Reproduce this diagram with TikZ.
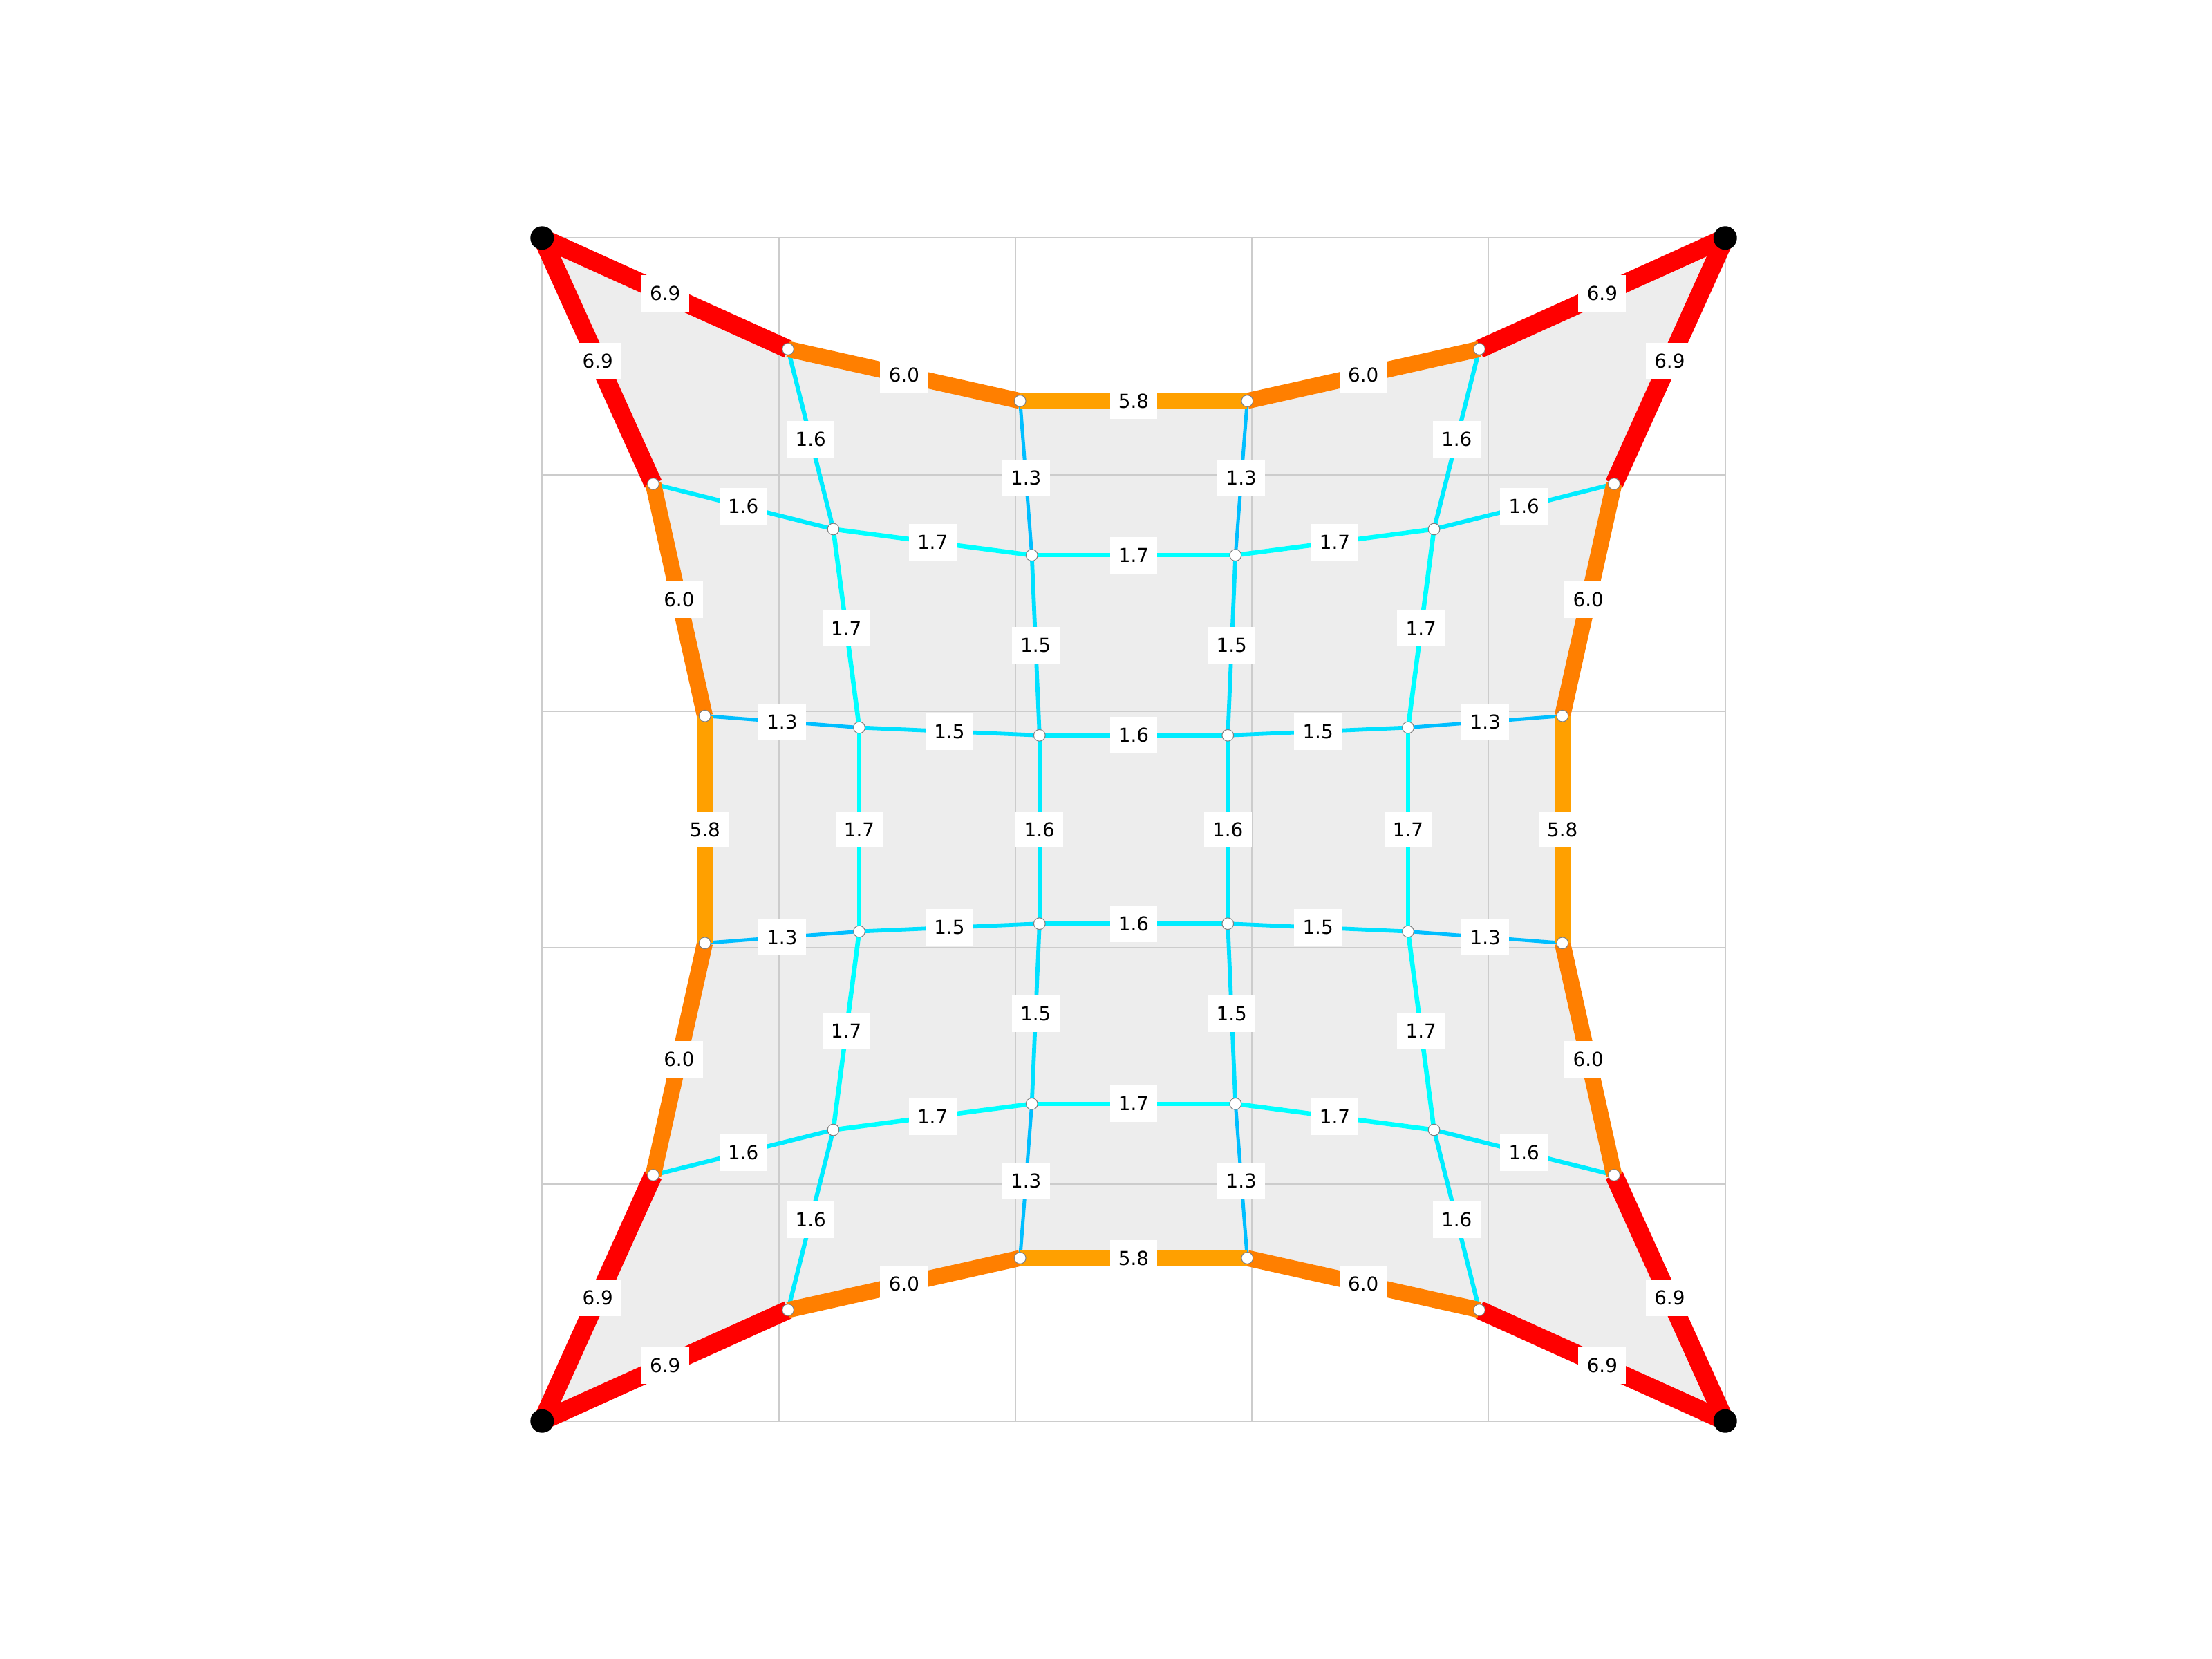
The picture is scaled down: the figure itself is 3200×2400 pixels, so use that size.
\documentclass[tikz,border=0pt]{standalone}
\usepackage{fontspec}
\setmainfont{DejaVu Sans}
\definecolor{c69}{RGB}{255,0,0}
\definecolor{c60}{RGB}{255,127,0}
\definecolor{c58}{RGB}{255,160,0}
\definecolor{c17}{RGB}{0,255,255}
\definecolor{c16}{RGB}{0,236,255}
\definecolor{c15}{RGB}{0,224,255}
\definecolor{c13}{RGB}{0,190,255}
\definecolor{gridc}{RGB}{204,204,204}
\definecolor{fillc}{RGB}{237,237,237}
\tikzset{
  f69/.style={line width=7.59pt, draw=c69},
  f60/.style={line width=6.6pt, draw=c60},
  f58/.style={line width=6.38pt, draw=c58},
  f17/.style={line width=1.87pt, draw=c17},
  f16/.style={line width=1.76pt, draw=c16},
  f15/.style={line width=1.65pt, draw=c15},
  f13/.style={line width=1.43pt, draw=c13},
  lbl/.style={fill=white, text=black, inner xsep=3.5pt, inner ysep=0pt, minimum height=15pt,
    font=\fontsize{7.9}{9.5}\selectfont},
  joint/.style={circle, fill=white, draw=gray, line width=0.3pt, minimum size=0.167cm, inner sep=0pt},
  anchorpt/.style={circle, fill=black, minimum size=0.34cm, inner sep=0pt},
  gridline/.style={draw=gridc, line width=0.55pt}
}
\newcommand{\memb}[4]{\draw[f#3] (#1) -- (#2) node[lbl, midway] {#4};}
\begin{document}
\begin{tikzpicture}[x=0.01cm, y=-0.01cm]
\useasboundingbox (0,0) rectangle (3200,2400);
% coordinates: row r, column c
\coordinate (p00) at (784.3,344.3);
\coordinate (p01) at (1140,505);
\coordinate (p02) at (1475.7,580);
\coordinate (p03) at (1804.3,580);
\coordinate (p04) at (2140,505);
\coordinate (p05) at (2495.7,344.3);
\coordinate (p10) at (945,700);
\coordinate (p11) at (1205.5,765.5);
\coordinate (p12) at (1492.7,803.2);
\coordinate (p13) at (1787.3,803.2);
\coordinate (p14) at (2074.5,765.5);
\coordinate (p15) at (2335,700);
\coordinate (p20) at (1019.7,1035.7);
\coordinate (p21) at (1243,1052.5);
\coordinate (p22) at (1503.8,1063.8);
\coordinate (p23) at (1776.2,1063.8);
\coordinate (p24) at (2037,1052.5);
\coordinate (p25) at (2260.3,1035.7);
\coordinate (p30) at (1019.7,1364.3);
\coordinate (p31) at (1243,1347.5);
\coordinate (p32) at (1503.8,1336.2);
\coordinate (p33) at (1776.2,1336.2);
\coordinate (p34) at (2037,1347.5);
\coordinate (p35) at (2260.3,1364.3);
\coordinate (p40) at (945,1700);
\coordinate (p41) at (1205.5,1634.5);
\coordinate (p42) at (1492.7,1596.8);
\coordinate (p43) at (1787.3,1596.8);
\coordinate (p44) at (2074.5,1634.5);
\coordinate (p45) at (2335,1700);
\coordinate (p50) at (784.3,2055.7);
\coordinate (p51) at (1140,1895);
\coordinate (p52) at (1475.7,1820);
\coordinate (p53) at (1804.3,1820);
\coordinate (p54) at (2140,1895);
\coordinate (p55) at (2495.7,2055.7);
% membrane fill
\fill[fillc] (p00) -- (p01) -- (p02) -- (p03) -- (p04) -- (p05) -- (p15) -- (p25) -- (p35) -- (p45)
  -- (p55) -- (p54) -- (p53) -- (p52) -- (p51) -- (p50) -- (p40) -- (p30) -- (p20) -- (p10) -- cycle;
% grid
\foreach \k in {0,...,5} {
  \draw[gridline] ({784.3+342.28*\k},344.3) -- ({784.3+342.28*\k},2055.7);
  \draw[gridline] (784.3,{344.3+342.28*\k}) -- (2495.7,{344.3+342.28*\k});
}
% inner vertical members
\memb{p01}{p11}{16}{1.6}
\memb{p11}{p21}{17}{1.7}
\memb{p21}{p31}{17}{1.7}
\memb{p31}{p41}{17}{1.7}
\memb{p41}{p51}{16}{1.6}
\memb{p02}{p12}{13}{1.3}
\memb{p12}{p22}{15}{1.5}
\memb{p22}{p32}{16}{1.6}
\memb{p32}{p42}{15}{1.5}
\memb{p42}{p52}{13}{1.3}
\memb{p03}{p13}{13}{1.3}
\memb{p13}{p23}{15}{1.5}
\memb{p23}{p33}{16}{1.6}
\memb{p33}{p43}{15}{1.5}
\memb{p43}{p53}{13}{1.3}
\memb{p04}{p14}{16}{1.6}
\memb{p14}{p24}{17}{1.7}
\memb{p24}{p34}{17}{1.7}
\memb{p34}{p44}{17}{1.7}
\memb{p44}{p54}{16}{1.6}
% inner horizontal members
\memb{p10}{p11}{16}{1.6}
\memb{p11}{p12}{17}{1.7}
\memb{p12}{p13}{17}{1.7}
\memb{p13}{p14}{17}{1.7}
\memb{p14}{p15}{16}{1.6}
\memb{p20}{p21}{13}{1.3}
\memb{p21}{p22}{15}{1.5}
\memb{p22}{p23}{16}{1.6}
\memb{p23}{p24}{15}{1.5}
\memb{p24}{p25}{13}{1.3}
\memb{p30}{p31}{13}{1.3}
\memb{p31}{p32}{15}{1.5}
\memb{p32}{p33}{16}{1.6}
\memb{p33}{p34}{15}{1.5}
\memb{p34}{p35}{13}{1.3}
\memb{p40}{p41}{16}{1.6}
\memb{p41}{p42}{17}{1.7}
\memb{p42}{p43}{17}{1.7}
\memb{p43}{p44}{17}{1.7}
\memb{p44}{p45}{16}{1.6}
% boundary cables: red
\memb{p00}{p01}{69}{6.9}
\memb{p04}{p05}{69}{6.9}
\memb{p00}{p10}{69}{6.9}
\memb{p40}{p50}{69}{6.9}
\memb{p05}{p15}{69}{6.9}
\memb{p45}{p55}{69}{6.9}
\memb{p50}{p51}{69}{6.9}
\memb{p54}{p55}{69}{6.9}
% boundary cables: 6.0
\memb{p01}{p02}{60}{6.0}
\memb{p03}{p04}{60}{6.0}
\memb{p10}{p20}{60}{6.0}
\memb{p30}{p40}{60}{6.0}
\memb{p15}{p25}{60}{6.0}
\memb{p35}{p45}{60}{6.0}
\memb{p51}{p52}{60}{6.0}
\memb{p53}{p54}{60}{6.0}
% boundary cables: 5.8
\memb{p02}{p03}{58}{5.8}
\memb{p20}{p30}{58}{5.8}
\memb{p25}{p35}{58}{5.8}
\memb{p52}{p53}{58}{5.8}
% free joints
\foreach \r in {0,...,5} {
  \foreach \c in {0,...,5} {
    \node[joint] (n\r\c) at (p\r\c) {};
  }
}
% supports
\node[anchorpt] (s00) at (p00) {};
\node[anchorpt] (s05) at (p05) {};
\node[anchorpt] (s50) at (p50) {};
\node[anchorpt] (s55) at (p55) {};
\end{tikzpicture}
\end{document}
